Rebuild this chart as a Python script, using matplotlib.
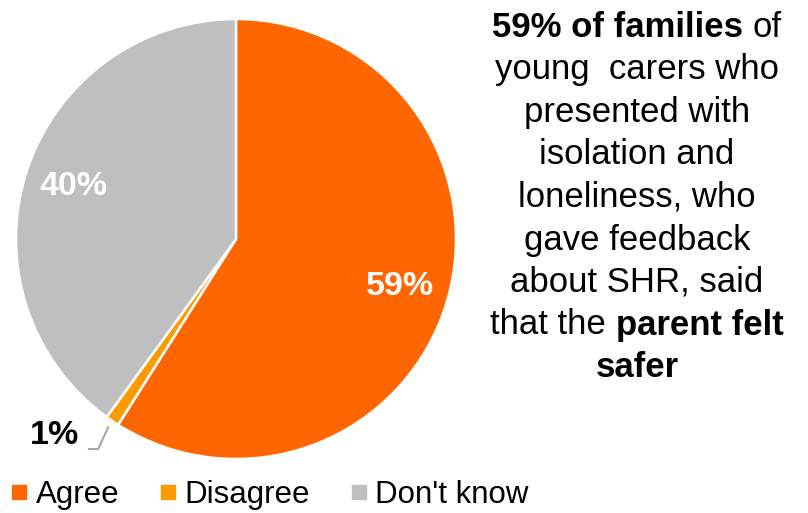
import math
from matplotlib import pyplot as plt
from matplotlib.lines import Line2D

plt.rcParams['font.family'] = ['Liberation Sans', 'DejaVu Sans']

labels = ['Agree', 'Disagree', "Don't know"]
values = [59, 1, 40]
colors = ['#FF6600', '#FF9900', '#BFBFBF']

# right hand side text: each line is a list of (text, bold)
note_lines = [
    [('59% of families', True), ('of', False)],
    [('young  carers who', False)],
    [('presented with', False)],
    [('isolation and', False)],
    [('loneliness, who', False)],
    [('gave feedback', False)],
    [('about SHR, said', False)],
    [('that the', False), ('parent felt', True)],
    [('safer', True)],
]

W, H = 808, 513
fig = plt.figure(figsize=(W / 100, H / 100), dpi=100)

# pie, centre at (236, 239) px, radius 220 px
ax = fig.add_axes([16 / W, 54 / H, 440 / W, 440 / H])
wedges, texts, pcts = ax.pie(values, colors=colors, startangle=90, counterclock=False,
                             autopct=lambda p: '%.0f%%' % p, pctdistance=0.775,
                             wedgeprops=dict(edgecolor='white', linewidth=1.8),
                             textprops=dict(fontsize=24.5, fontweight='bold', color='white'))
ax.set_xlim(-1, 1)
ax.set_ylim(-1, 1)
ax.set_aspect('auto')
ax.axis('off')

# small slice label goes outside with a leader line
w = wedges[1]
mid = math.radians((w.theta1 + w.theta2) / 2)
x0, y0 = 1.03 * math.cos(mid), 1.03 * math.sin(mid)
ax.plot([x0, -0.627, -0.673], [y0, -0.955, -0.955], color='#A6A6A6', lw=1.5,
        clip_on=False, solid_capstyle='butt')
pcts[1].set_position((-0.827, -0.895))
pcts[1].set_color('black')

# legend
handles = [Line2D([], [], ls='none', marker='s', markersize=10, color=c) for c in colors]
fig.legend(handles, labels, loc='center left', bbox_to_anchor=(12 / W, 1 - 495 / H),
           ncol=3, frameon=False, fontsize=22.5, handlelength=0.45, handletextpad=0.3,
           columnspacing=1.34, borderpad=0, borderaxespad=0)

# mixed bold text block, centred on x = 637 px
renderer = fig.canvas.get_renderer()
cx = 637
gap = 10
for i, line in enumerate(note_lines):
    y = 1 - (37 + i * 42.5) / H
    parts = []
    for s, b in line:
        t = fig.text(0, y, s, fontsize=25, fontweight='bold' if b else 'normal',
                     ha='left', va='baseline')
        parts.append(t)
    widths = [t.get_window_extent(renderer).width for t in parts]
    total = sum(widths) + gap * (len(parts) - 1)
    x = cx - total / 2
    for t, wd in zip(parts, widths):
        t.set_x(x / W)
        x += wd + gap

fig.savefig('out.png', dpi=100, facecolor='white')
